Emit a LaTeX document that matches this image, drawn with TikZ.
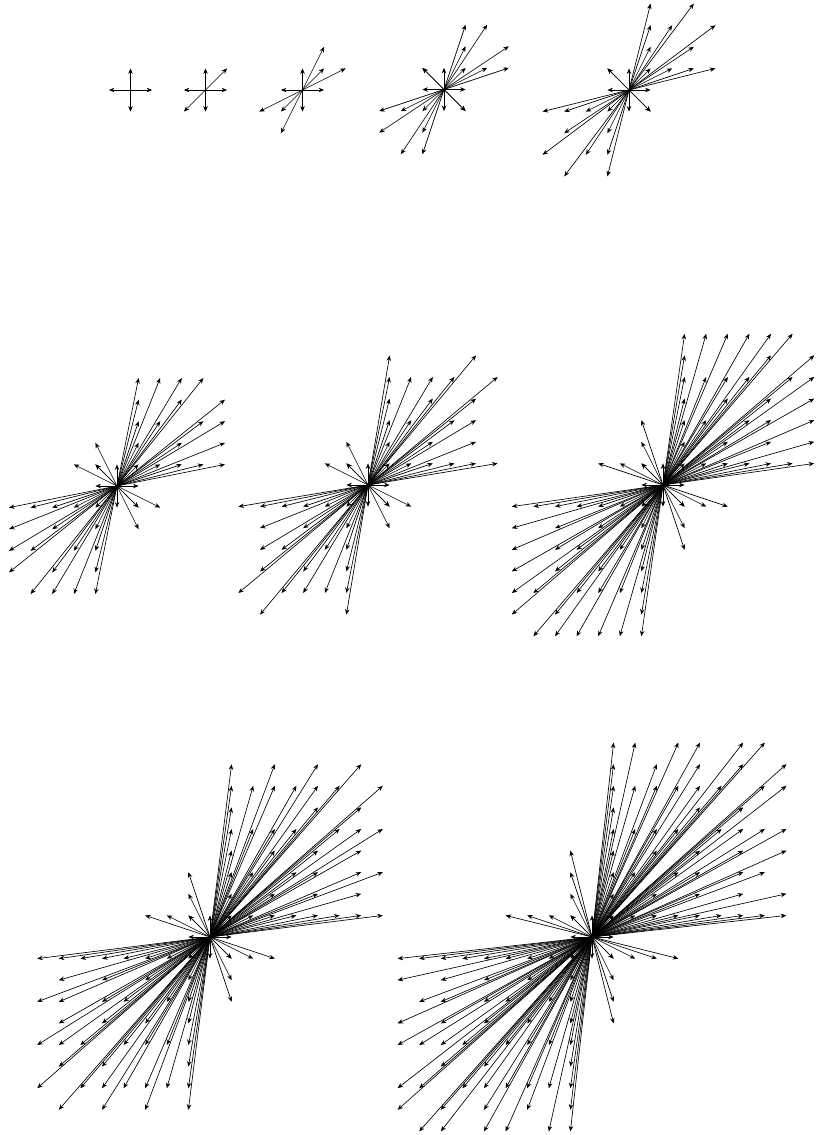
\documentclass[tikz,border=0pt]{standalone}
\usetikzlibrary{arrows.meta}
\tikzset{vec/.style={{Stealth[length=5.5pt,width=4.5pt]}-{Stealth[length=5.5pt,width=4.5pt]}, line width=0.65pt, black}}
\def\uu{21.6}
% #1,#2 centre, #3 bound m (first quadrant), #4 bound k (second quadrant)
\newcommand\myfan[4]{%
\begin{scope}[shift={(#1,#2)}]
\foreach \a in {0,...,#3}{\foreach \b in {0,...,#3}{%
  \ifnum\numexpr\a+\b\relax>0
    \pgfmathtruncatemacro\g{gcd(\a,\b)}%
    \ifnum\g=1
      \draw[vec] ({-\a*\uu},{\b*\uu}) -- ({\a*\uu},{-\b*\uu});
    \fi
  \fi
}}
\ifnum#4>0
\foreach \j in {1,...,#4}{%
  \draw[vec] ({\uu},{\j*\uu}) -- ({-\uu},{-\j*\uu});
  \draw[vec] ({\j*\uu},{\uu}) -- ({-\j*\uu},{-\uu});
}
\fi
\end{scope}}
\begin{document}
\begin{tikzpicture}[x=1pt,y=-1pt]
\useasboundingbox (0,0) rectangle (817,1135);
% picture 1: axes only
\begin{scope}[shift={(130.5,90)}]
\draw[vec] ({-\uu},0) -- ({\uu},0);
\draw[vec] (0,{\uu}) -- (0,{-\uu});
\end{scope}
\myfan{205.5}{90}{1}{0}
\myfan{302.5}{90}{2}{0}
\myfan{444}{89.5}{3}{1}
\myfan{629}{90}{4}{1}
\myfan{117}{486}{5}{2}
\myfan{368}{485}{6}{2}
\myfan{663}{485}{7}{3}
\myfan{210}{937}{8}{3}
\myfan{592}{937}{9}{4}
\end{tikzpicture}
\end{document}
